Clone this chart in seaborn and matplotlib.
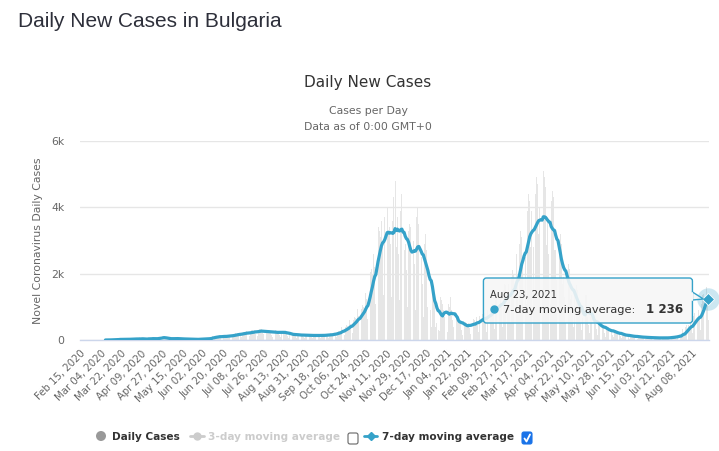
import numpy as np
import pandas as pd
import matplotlib
matplotlib.use("Agg")
import matplotlib.pyplot as plt
from matplotlib.patches import FancyBboxPatch, Circle, Polygon
import seaborn as sns

# --- data ---
start_date = "2020-02-15"

# daily new cases, one row per week (Sat..Fri)
daily_cases = [
    0, 0, 0, 0, 0, 0, 0,
    0, 0, 0, 0, 0, 0, 0,
    0, 0, 0, 0, 0, 0, 0,
    0, 4, 0, 0, 2, 1, 16,
    8, 10, 11, 11, 24, 14, 19,
    36, 12, 24, 14, 21, 22, 22,
    27, 13, 40, 27, 31, 23, 27,
    42, 29, 36, 48, 20, 47, 30,
    28, 22, 29, 20, 61, 48, 43,
    40, 48, 24, 15, 45, 60, 72,
    90, 78, 50, 85, 64, 42, 35,
    44, 33, 19, 47, 55, 48, 42,
    47, 36, 22, 31, 40, 32, 48,
    30, 20, 13, 23, 26, 27, 21,
    19, 14, 9, 16, 28, 22, 29,
    31, 18, 11, 33, 40, 34, 44,
    50, 36, 28, 61, 83, 118, 101,
    112, 73, 54, 110, 128, 119, 112,
    138, 92, 52, 122, 150, 146, 140,
    170, 110, 78, 165, 196, 180, 206,
    220, 150, 95, 216, 250, 240, 225,
    266, 170, 110, 252, 295, 290, 285,
    300, 190, 120, 290, 330, 318, 330,
    283, 180, 105, 255, 310, 310, 305,
    265, 160, 100, 240, 290, 280, 275,
    270, 165, 98, 245, 285, 275, 270,
    200, 120, 72, 180, 215, 208, 195,
    170, 110, 60, 165, 190, 180, 175,
    160, 100, 55, 150, 175, 170, 170,
    150, 95, 55, 148, 170, 165, 160,
    160, 100, 58, 152, 175, 170, 165,
    180, 115, 65, 175, 200, 195, 190,
    240, 160, 90, 240, 280, 270, 260,
    385, 300, 140, 385, 440, 420, 380,
    600, 470, 220, 600, 690, 660, 610,
    930, 720, 340, 940, 1060, 1010, 950,
    1420, 1250, 620, 1800, 2050, 2150, 1950,
    2600, 2200, 1100, 3200, 3400, 3300, 3100,
    3600, 2800, 1350, 3700, 4100, 4000, 3200,
    3400, 2900, 1300, 3600, 4300, 4800, 2800,
    3700, 2600, 1200, 3900, 4400, 4200, 2700,
    2900, 2100, 1000, 3300, 3500, 3400, 2350,
    3000, 2300, 900, 3700, 4000, 3500, 1850,
    2500, 1700, 700, 2900, 3200, 2700, 1000,
    1400, 900, 400, 1700, 1600, 1300, 400,
    500, 300, 280, 1300, 1200, 1100, 900,
    700, 400, 250, 1100, 1000, 1300, 900,
    600, 400, 200, 700, 700, 650, 600,
    500, 300, 150, 500, 550, 520, 490,
    520, 350, 170, 580, 640, 600, 500,
    700, 450, 230, 720, 820, 780, 640,
    820, 560, 250, 900, 1000, 950, 770,
    1100, 800, 330, 1200, 1350, 1300, 920,
    1350, 1000, 400, 1500, 1700, 1650, 1150,
    1700, 1200, 500, 1900, 2100, 2000, 1450,
    2600, 1900, 800, 2900, 3300, 3100, 2200,
    3500, 2500, 1100, 3900, 4400, 4200, 2800,
    3900, 2800, 1300, 4400, 4900, 4700, 3200,
    4000, 2900, 1200, 5100, 4900, 4600, 2850,
    3700, 2600, 1100, 4200, 4500, 4300, 2700,
    2700, 1800, 800, 3000, 3200, 2900, 1700,
    1900, 1300, 550, 2100, 2300, 2150, 1250,
    1350, 950, 400, 1500, 1650, 1500, 700,
    800, 500, 300, 650, 1000, 1350, 1350,
    700, 450, 200, 700, 800, 760, 590,
    480, 320, 150, 500, 560, 530, 400,
    350, 220, 100, 360, 400, 380, 290,
    250, 160, 80, 260, 300, 280, 210,
    170, 110, 55, 180, 200, 190, 145,
    130, 85, 40, 135, 155, 150, 110,
    100, 65, 35, 105, 120, 115, 90,
    85, 55, 28, 90, 100, 95, 72,
    72, 48, 24, 78, 88, 82, 63,
    66, 42, 22, 72, 80, 77, 61,
    82, 55, 27, 88, 100, 95, 78,
    130, 85, 45, 150, 165, 160, 105,
    330, 220, 110, 390, 450, 460, 350,
    620, 420, 200, 720, 800, 790, 650,
    900, 650, 300, 1100, 1350, 1400, 1400,
    1600, 1200, 602,
]

tick_labels = [
    "Feb 15, 2020", "Mar 04, 2020", "Mar 22, 2020", "Apr 09, 2020", "Apr 27, 2020",
    "May 15, 2020", "Jun 02, 2020", "Jun 20, 2020", "Jul 08, 2020", "Jul 26, 2020",
    "Aug 13, 2020", "Aug 31, 2020", "Sep 18, 2020", "Oct 06, 2020", "Oct 24, 2020",
    "Nov 11, 2020", "Nov 29, 2020", "Dec 17, 2020", "Jan 04, 2021", "Jan 22, 2021",
    "Feb 09, 2021", "Feb 27, 2021", "Mar 17, 2021", "Apr 04, 2021", "Apr 22, 2021",
    "May 10, 2021", "May 28, 2021", "Jun 15, 2021", "Jul 03, 2021", "Jul 21, 2021",
    "Aug 08, 2021",
]
tick_step = 18
y_ticks = [0, 2000, 4000, 6000]

# --- prepare ---
n = len(daily_cases)
df = pd.DataFrame({"day": np.arange(n), "cases": daily_cases})
df["date"] = pd.date_range(start_date, periods=n, freq="D")
df["avg7"] = df["cases"].rolling(7, min_periods=1).mean()
first_case = df.index[df["cases"] > 0][0]
df.loc[:first_case - 1, "avg7"] = np.nan

blue = "#35a2c9"
W, H = 719, 451

sns.set_theme(style="white")
plt.rcParams["font.family"] = ["DejaVu Sans"]

fig = plt.figure(figsize=(W / 100, H / 100), dpi=100)
ax = fig.add_axes([80 / W, 1 - 340 / H, 629 / W, 199 / H])

sns.barplot(data=df, x="day", y="cases", native_scale=True, color="#e6e6e6",
            saturation=1, width=0.8, errorbar=None, linewidth=0, ax=ax)
sns.lineplot(data=df, x="day", y="avg7", color=blue, lw=2.3, ax=ax, zorder=3)

ax.set_xlim(-0.5, n - 0.5)
ax.set_ylim(0, y_ticks[-1])
ax.set_yticks(y_ticks)
ax.set_yticklabels([f"{v // 1000}k" if v else "0" for v in y_ticks],
                   fontsize=7.8, color="#666666")
ax.set_xticks([i * tick_step for i in range(len(tick_labels))])
ax.set_xticklabels(tick_labels, rotation=45, ha="right", rotation_mode="anchor",
                   fontsize=7.3, color="#666666")
ax.tick_params(axis="x", length=0, pad=6)
ax.tick_params(axis="y", length=0, pad=11)
ax.yaxis.grid(True, color="#e6e6e6", lw=1)
ax.xaxis.grid(False)
for s in ["left", "right", "top"]:
    ax.spines[s].set_visible(False)
ax.spines["bottom"].set_color("#ccd6eb")
ax.spines["bottom"].set_linewidth(1)
ax.set_xlabel("")
ax.set_ylabel("Novel Coronavirus Daily Cases", fontsize=7.8, color="#666666")
ax.yaxis.set_label_coords(-0.059, 0.5)

# highlighted last point
last = df.iloc[-1]
ax.scatter([last["day"]], [last["avg7"]], s=260, color=blue, alpha=0.25,
           linewidth=0, zorder=4, clip_on=False)
ax.scatter([last["day"]], [last["avg7"]], marker="D", s=38, color=blue,
           edgecolor="white", linewidth=0.6, zorder=5, clip_on=False)

# overlay in pixel coords for titles, legend, tooltip
ov = fig.add_axes([0, 0, 1, 1], zorder=10)
ov.set_xlim(0, W)
ov.set_ylim(H, 0)
ov.axis("off")
ov.patch.set_alpha(0)

ov.text(18, 27, "Daily New Cases in Bulgaria", fontsize=15, family="Liberation Sans",
        color="#2d2f3a", ha="left", va="baseline")
ov.text(368, 87, "Daily New Cases", fontsize=11, color="#333333", ha="center", va="baseline")
ov.text(368, 114, "Cases per Day", fontsize=7.8, color="#666666", ha="center", va="baseline")
ov.text(368, 130, "Data as of 0:00 GMT+0", fontsize=7.8, color="#666666", ha="center", va="baseline")

# legend
ly = 436
ov.add_patch(Circle((101, ly), 5, color="#999999", lw=0))
ov.text(112, ly + 4, "Daily Cases", fontsize=7.6, weight="bold", color="#333333", va="baseline")
ov.plot([190, 204], [ly, ly], color="#cccccc", lw=2)
ov.plot([197], [ly], marker="o", ms=5, color="#cccccc")
ov.text(208, ly + 4, "3-day moving average", fontsize=7.6, weight="bold", color="#cccccc", va="baseline")
ov.add_patch(FancyBboxPatch((348, 433), 10, 11, boxstyle="round,pad=0,rounding_size=2",
                            facecolor="white", edgecolor="#666666", lw=0.8))
ov.plot([364, 377], [ly, ly], color=blue, lw=2)
ov.plot([370.5], [ly], marker="D", ms=4.5, color=blue)
ov.text(382, ly + 4, "7-day moving average", fontsize=7.6, weight="bold", color="#333333", va="baseline")
ov.add_patch(FancyBboxPatch((522, 432), 10, 12, boxstyle="round,pad=0,rounding_size=2",
                            facecolor="#1a73e8", edgecolor="#1a73e8", lw=0.8))
ov.plot([524.5, 526.5, 530], [438.5, 441.5, 434.5], color="white", lw=1.3)

# tooltip anchored on the last point
fig.canvas.draw()
dx, dy = ax.transData.transform((last["day"], last["avg7"]))
px, py = dx, H - dy
bx1, bx0 = px - 16, px - 225
by0, by1 = py - 21, py + 24
ov.add_patch(FancyBboxPatch((bx0, by0), bx1 - bx0, by1 - by0,
                            boxstyle="round,pad=0,rounding_size=3",
                            facecolor=(0.97, 0.97, 0.97, 0.88), edgecolor=blue, lw=1))
ov.add_patch(Polygon([(bx1, py - 7), (px - 5, py), (bx1, py + 1)], closed=True,
                     facecolor=(0.97, 0.97, 0.97, 0.88), edgecolor=blue, lw=1))
ov.plot([bx1, bx1], [py - 6.5, py + 0.5], color=(0.97, 0.97, 0.97), lw=1.5)
ov.text(bx0 + 7, by0 + 20, last["date"].strftime("%b %d, %Y"), fontsize=7.2,
        color="#333333", va="baseline")
ov.plot([bx0 + 11], [by0 + 31], marker="o", ms=5, color=blue)
ov.text(bx0 + 20, by0 + 35, "7-day moving average:", fontsize=8.2,
        color="#333333", va="baseline")
ov.text(bx1 - 9, by0 + 35, f"{round(last['avg7']):,}".replace(",", " "), fontsize=8.6,
        weight="bold", color="#333333", ha="right", va="baseline")

fig.savefig("out.png", dpi=100)
